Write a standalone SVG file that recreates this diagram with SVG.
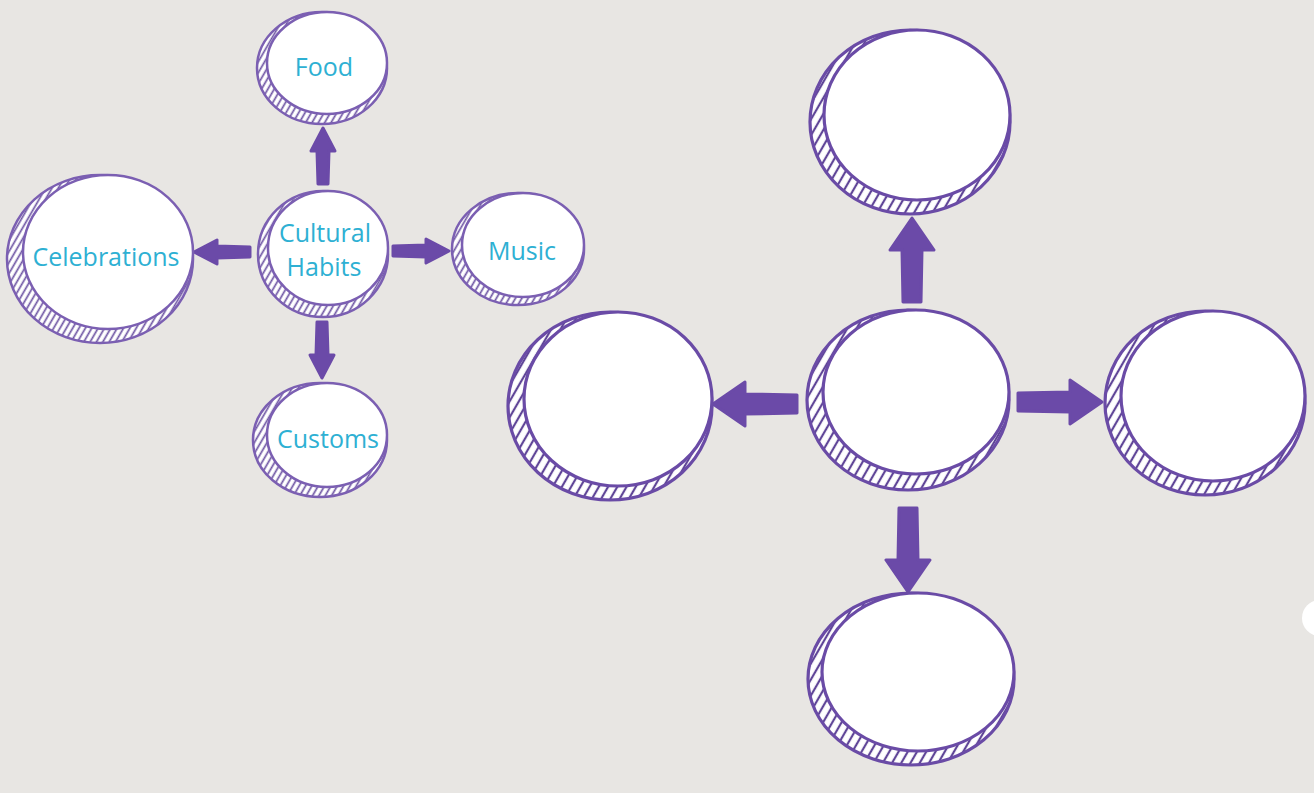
<svg xmlns="http://www.w3.org/2000/svg" width="1314" height="793" viewBox="0 0 1314 793">
<defs>
<pattern id="hatch" patternUnits="userSpaceOnUse" width="5.5" height="5.5" patternTransform="rotate(30)">
<rect width="5.5" height="5.5" fill="#ffffff"/>
<line x1="1.5" y1="0" x2="1.5" y2="5.5" stroke="#6f56a4" stroke-width="1.7"/>
</pattern>
<pattern id="hatchB" patternUnits="userSpaceOnUse" width="8" height="8" patternTransform="rotate(30)">
<rect width="8" height="8" fill="#ffffff"/>
<line x1="2" y1="0" x2="2" y2="8" stroke="#5f4597" stroke-width="2.2"/>
</pattern>
<path id="arrS" d="M0,-5 L33,-6 L33,-12 L56,0 L33,12 L33,6 L0,5 Z"/>
<path id="arrB" d="M0,-9 L52,-10 L52,-22 L84,0 L52,22 L52,10 L0,9 Z"/>
</defs>
<style>
.o{fill:url(#hatch);stroke:#7b5fb2;stroke-width:2.5}
.i{fill:#ffffff;stroke:#7b5fb2;stroke-width:2.5}
.ob{fill:url(#hatchB);stroke:#6a4ba6;stroke-width:3.2}
.ib{fill:#ffffff;stroke:#6a4ba6;stroke-width:3.2}
.t{font-family:"Open Sans","Liberation Sans",sans-serif;font-size:25px;fill:#2eb0d3;text-anchor:middle;dominant-baseline:central}
.a{fill:#6b4aa8;stroke:#6b4aa8;stroke-width:3;stroke-linejoin:round}
</style>
<rect width="1314" height="793" fill="#e8e6e3"/>
<g id="connectors">
<use href="#arrS" class="a" transform="translate(323,184) rotate(-90)"/>
<use href="#arrS" class="a" transform="translate(250,252) rotate(180)"/>
<use href="#arrS" class="a" transform="translate(393,251)"/>
<use href="#arrS" class="a" transform="translate(322,322) rotate(90)"/>
<use href="#arrB" class="a" transform="translate(912,302) rotate(-90)"/>
<use href="#arrB" class="a" transform="translate(797,404) rotate(180)"/>
<use href="#arrB" class="a" transform="translate(1018,402)"/>
<use href="#arrB" class="a" transform="translate(908,508) rotate(90)"/>
</g>
<g id="food">
<ellipse class="o" cx="322" cy="68" rx="65" ry="56"/>
<ellipse class="i" cx="327" cy="63" rx="60" ry="51"/>
<text class="t" x="324" y="66">Food</text>
</g>
<g id="cultural-habits">
<ellipse class="o" cx="323" cy="254" rx="65" ry="63"/>
<ellipse class="i" cx="328" cy="248" rx="60" ry="57"/>
<text class="t" x="325" y="232">Cultural</text>
<text class="t" x="324" y="266">Habits</text>
</g>
<g id="celebrations">
<ellipse class="o" cx="100" cy="259" rx="93" ry="84"/>
<ellipse class="i" cx="108" cy="252" rx="85" ry="77"/>
<text class="t" x="106" y="256">Celebrations</text>
</g>
<g id="music">
<ellipse class="o" cx="518" cy="249" rx="66" ry="56"/>
<ellipse class="i" cx="523" cy="245" rx="61" ry="52"/>
<text class="t" x="522" y="250">Music</text>
</g>
<g id="customs">
<ellipse class="o" cx="320" cy="440" rx="67" ry="57"/>
<ellipse class="i" cx="327" cy="435" rx="60" ry="52"/>
<text class="t" x="328" y="438">Customs</text>
</g>
<g id="top">
<ellipse class="ob" cx="910" cy="122" rx="100" ry="92"/>
<ellipse class="ib" cx="917" cy="115" rx="93" ry="85"/>
</g>
<g id="center">
<ellipse class="ob" cx="908" cy="400" rx="101" ry="90"/>
<ellipse class="ib" cx="916" cy="392" rx="93" ry="82"/>
</g>
<g id="left">
<ellipse class="ob" cx="610" cy="406" rx="102" ry="94"/>
<ellipse class="ib" cx="618" cy="399" rx="94" ry="87"/>
</g>
<g id="right">
<ellipse class="ob" cx="1205" cy="403" rx="100" ry="92"/>
<ellipse class="ib" cx="1213" cy="396" rx="92" ry="85"/>
</g>
<g id="bottom">
<ellipse class="ob" cx="911" cy="679" rx="103" ry="86"/>
<ellipse class="ib" cx="918" cy="672" rx="96" ry="79"/>
</g>
<circle cx="1320" cy="618" r="18" fill="#ffffff"/>
</svg>
